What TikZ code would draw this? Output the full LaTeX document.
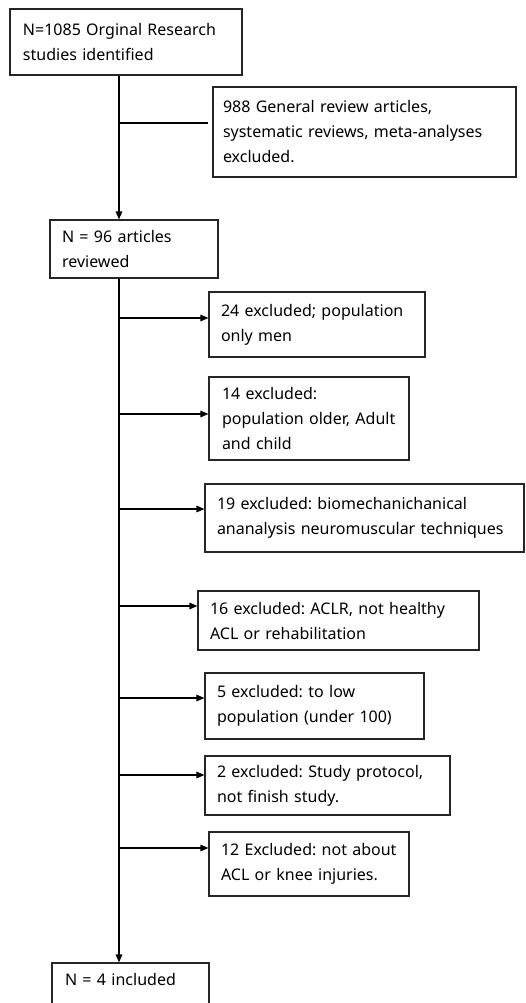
\documentclass[tikz,border=0pt]{standalone}
\usepackage{fontspec}
\setmainfont{Noto Sans}
\frenchspacing
\usetikzlibrary{arrows.meta}
\begin{document}
\begin{tikzpicture}[x=1pt,y=-1pt,
  box/.style={draw=black!85, line width=1.1pt, rectangle, inner sep=0pt,
    align=left, font=\fontsize{16}{25}\selectfont},
  conn/.style={draw=black, line width=1.3pt},
  arr/.style={conn, -{Triangle[length=8pt,width=6.5pt]}}]
\useasboundingbox (0,0) rectangle (526,1003);
\coordinate (sx) at (119,0);
% main boxes
\node[box, minimum width=232, minimum height=66, text width=206] (n1) at (126,42) {N=1085 Orginal Research\\studies identified};
\node[box, minimum width=168, minimum height=58, text width=144] (n2) at (134,249) {N = 96 articles\\reviewed};
\node[box, minimum width=157, minimum height=48, text width=131, text depth=15pt] (n9) at (130.5,987) {N = 4 included};
% exclusion boxes
\node[box, minimum width=303, minimum height=90, text width=283] (e0) at (364.5,132) {988 General review articles,\\systematic reviews, meta-analyses\\excluded.};
\node[box, minimum width=216, minimum height=65, text width=192] (e1) at (317,324.5) {24 excluded; population\\only men};
\node[box, minimum width=200, minimum height=83, text width=174] (e2) at (309,418.5) {14 excluded:\\population older, Adult\\and child};
\node[box, minimum width=319, minimum height=68, text width=295] (e3) at (364.5,518) {19 excluded: biomechanichanical\\ananalysis neuromuscular techniques};
\node[box, minimum width=281, minimum height=59, text width=257] (e4) at (338.5,620.5) {16 excluded: ACLR, not healthy\\ACL or rehabilitation};
\node[box, minimum width=219, minimum height=66, text width=195] (e5) at (314.5,706) {5 excluded: to low\\population (under 100)};
\node[box, minimum width=245, minimum height=59, text width=221] (e6) at (327.5,785.5) {2 excluded: Study protocol,\\not finish study.};
\node[box, minimum width=200, minimum height=64, text width=176] (e7) at (309,864) {12 Excluded: not about\\ACL or knee injuries.};
% spine
\draw[arr] (n1.south -| sx) -- (n2.north -| sx);
\draw[arr] (n2.south -| sx) -- (n9.north -| sx);
% branches
\draw[conn] (sx |- 0,123) -- ([xshift=-4pt]e0.west |- 0,123);
\draw[arr] (sx |- 0,318) -- (e1.west |- 0,318);
\draw[arr] (sx |- 0,414) -- (e2.west |- 0,414);
\draw[arr] (sx |- 0,509) -- (e3.west |- 0,509);
\draw[arr] (sx |- 0,606) -- (e4.west |- 0,606);
\draw[arr] (sx |- 0,698) -- (e5.west |- 0,698);
\draw[arr] (sx |- 0,775) -- (e6.west |- 0,775);
\draw[arr] (sx |- 0,848) -- (e7.west |- 0,848);
\end{tikzpicture}
\end{document}
